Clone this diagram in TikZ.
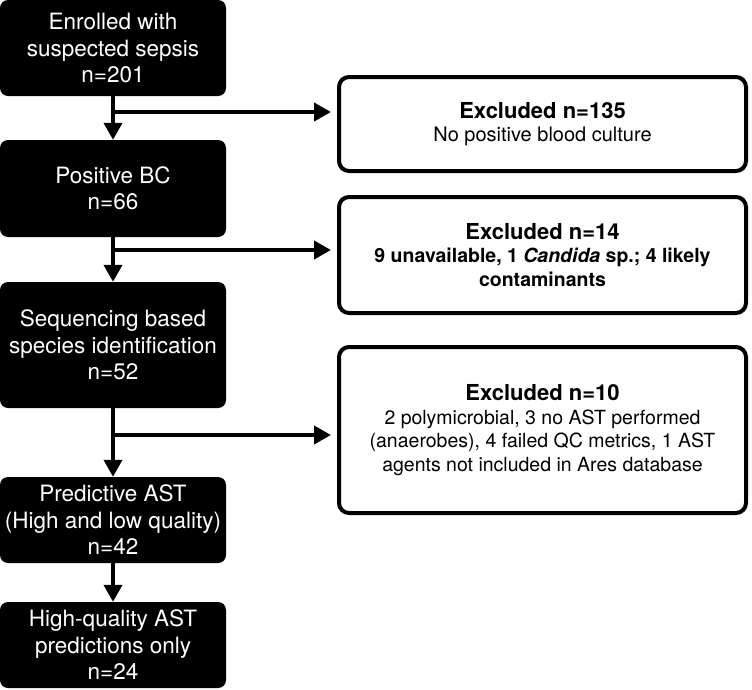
\documentclass[tikz,border=0pt]{standalone}
\usepackage{fontspec}
\setmainfont{TeX Gyre Heros}
\usetikzlibrary{arrows.meta}

\newcommand{\exhead}[1]{{\fontsize{22}{25}\selectfont\bfseries #1}}

\begin{document}
\begin{tikzpicture}[x=1pt,y=-1pt,
    stage/.style={fill=black,text=white,rounded corners=8pt,align=center,
        minimum width=226pt,inner sep=0pt,font=\fontsize{22.5}{26.5}\selectfont},
    excl/.style={draw,line width=4pt,rounded corners=10pt,align=center,
        minimum width=407pt,inner sep=0pt,font=\fontsize{19.5}{23.5}\selectfont},
    arr/.style={line width=4pt,-{Triangle[length=17pt,width=18pt]}}]
    \useasboundingbox(0,0)rectangle(752,689);

    % main flow
    \node[stage,minimum height=96pt](enrolled)at(113,48){Enrolled with\\suspected sepsis\\n=201};
    \node[stage,minimum height=97pt](positive)at(113,188.5){Positive BC\\n=66};
    \node[stage,minimum height=126pt](seqid)at(113,345){Sequencing based\\species identification\\n=52};
    \node[stage,minimum height=86pt](predast)at(113,520){Predictive AST\\(High and low quality)\\n=42};
    \node[stage,minimum height=86pt](hqast)at(113,645){High-quality AST\\predictions only\\n=24};

    % exclusions
    \node[excl,minimum height=94pt](excla)at(542.5,124){\exhead{Excluded n=135}\\{\fontsize{20}{24}\selectfont No positive blood culture}};
    \node[excl,minimum height=116pt](exclb)at(542.5,255){\exhead{Excluded n=14}\\
        \textbf{9 unavailable, 1 \textit{Candida} sp.; 4 likely}\\\textbf{contaminants}};
    \node[excl,minimum height=166pt](exclc)at(542.5,430){\exhead{Excluded n=10}\\
        2 polymicrobial, 3 no AST performed\\(anaerobes), 4 failed QC metrics, 1 AST\\
        agents not included in Ares database};

    \coordinate(ba)at(113,112);
    \coordinate(bb)at(113,250);
    \coordinate(bc)at(113,435);

    \draw[arr](enrolled)--(positive);
    \draw[arr](positive)--(seqid);
    \draw[arr](seqid)--(predast);
    \draw[arr](predast)--(hqast);

    \draw[arr,shorten >=6pt](ba)--(ba-|excla.west);
    \draw[arr,shorten >=6pt](bb)--(bb-|exclb.west);
    \draw[arr,shorten >=6pt](bc)--(bc-|exclc.west);
\end{tikzpicture}
\end{document}
